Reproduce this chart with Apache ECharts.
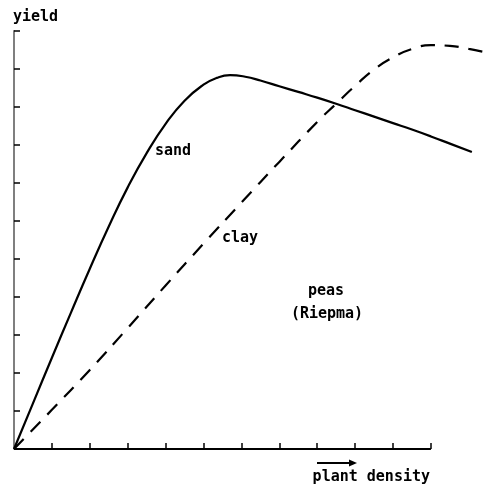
<!DOCTYPE html>
<html>
<head>
<meta charset="utf-8">
<script src="https://cdn.jsdelivr.net/npm/echarts@6/dist/echarts.min.js"></script>
<style>
  html, body { margin: 0; padding: 0; background: #fff; }
  #chart { width: 491px; height: 486px; }
</style>
</head>
<body>
<div id="chart"></div>
<script>
// Yield response of peas to plant density on two soils (Riepma)
const sandDensity = [0, 0.5, 1.0, 1.5, 2.0, 2.5, 3.0, 3.5, 4.0, 4.5, 5.0, 5.35, 5.7, 6.1,
                     6.5, 7.0, 7.5, 8.0, 8.5, 9.0, 9.5, 10.0, 10.5, 11.0, 11.5, 12.08];
const sandYield   = [0, 1.20, 2.40, 3.58, 4.74, 5.85, 6.88, 7.78, 8.55, 9.16, 9.58, 9.76, 9.83, 9.79,
                     9.69, 9.54, 9.39, 9.24, 9.08, 8.91, 8.74, 8.57, 8.40, 8.22, 8.03, 7.81];
const clayDensity = [0, 1, 2, 3, 4, 5, 6, 7, 8, 8.5, 9, 9.5, 10, 10.5, 11, 11.5, 12, 12.59];
const clayYield   = [0, 1.03, 2.08, 3.18, 4.30, 5.40, 6.48, 7.55, 8.60, 9.08, 9.55, 9.98,
                     10.30, 10.52, 10.62, 10.60, 10.52, 10.40];
const xTicks = [1, 2, 3, 4, 5, 6, 7, 8, 9, 10, 11];
const xAxisEnd = 11;

const pairs = (xs, ys) => xs.map((x, i) => [x, ys[i]]);

const FONT = 'bold 15px "DejaVu Sans Mono"';

const chart = echarts.init(document.getElementById('chart'), null, { renderer: 'canvas' });

chart.setOption({
  animation: false,
  backgroundColor: '#ffffff',
  grid: { left: 14, right: 0, top: 30.7, bottom: 37, containLabel: false },
  xAxis: {
    type: 'value', min: 0, max: 12.585, interval: 1,
    axisLine: { show: false },
    axisTick: { show: true, inside: true, length: 6, customValues: xTicks,
                lineStyle: { color: '#000', width: 1.5 } },
    axisLabel: { show: false },
    splitLine: { show: false }
  },
  yAxis: {
    type: 'value', min: 0, max: 11, interval: 1,
    axisLine: { show: true, lineStyle: { color: '#555', width: 1.5 } },
    axisTick: { show: true, inside: true, length: 6, lineStyle: { color: '#000', width: 1.5 } },
    axisLabel: { show: false },
    splitLine: { show: false }
  },
  series: [
    {
      name: 'axis', type: 'line', data: [[0, 0], [xAxisEnd, 0]], symbol: 'none', clip: false,
      lineStyle: { color: '#000', width: 2 }, silent: true
    },
    {
      name: 'sand', type: 'line', data: pairs(sandDensity, sandYield), symbol: 'none', smooth: true,
      clip: false, lineStyle: { color: '#000', width: 2.2 }
    },
    {
      name: 'clay', type: 'line', data: pairs(clayDensity, clayYield), symbol: 'none', smooth: true,
      clip: false, lineStyle: { color: '#000', width: 2.2, type: [14, 10] }
    }
  ],
  graphic: [
    { type: 'text', style: { text: 'yield', x: 13, y: 17, font: FONT, fill: '#000', textVerticalAlign: 'middle' } },
    { type: 'text', style: { text: 'sand', x: 155, y: 151, font: FONT, fill: '#000', textVerticalAlign: 'middle' } },
    { type: 'text', style: { text: 'clay', x: 222, y: 238, font: FONT, fill: '#000', textVerticalAlign: 'middle' } },
    { type: 'text', style: { text: 'peas', x: 308, y: 291, font: FONT, fill: '#000', textVerticalAlign: 'middle' } },
    { type: 'text', style: { text: '(Riepma)', x: 327, y: 314, font: FONT, fill: '#000', textAlign: 'center', textVerticalAlign: 'middle' } },
    { type: 'text', style: { text: 'plant density', x: 430, y: 477, font: FONT, fill: '#000', textAlign: 'right', textVerticalAlign: 'middle' } },
    { type: 'line', shape: { x1: 317, y1: 463, x2: 350, y2: 463 }, style: { stroke: '#000', lineWidth: 2 } },
    { type: 'polygon', shape: { points: [[349, 459.5], [357, 463], [349, 466.5]] }, style: { fill: '#000' } }
  ]
});
</script>
</body>
</html>
